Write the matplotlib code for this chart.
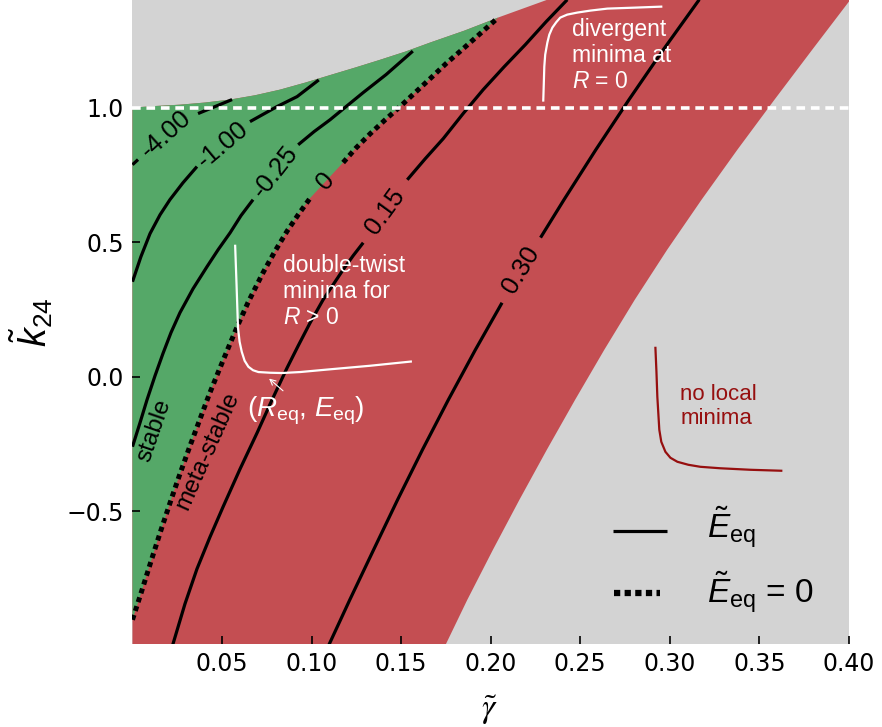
import numpy as np
import matplotlib.pyplot as plt

plt.rcParams['font.family'] = ['Liberation Sans', 'DejaVu Sans']
plt.rcParams['mathtext.fontset'] = 'custom'
plt.rcParams['mathtext.rm'] = 'Liberation Sans'
plt.rcParams['mathtext.it'] = 'Liberation Sans:italic'
plt.rcParams['mathtext.bf'] = 'Liberation Sans:bold'

nan = np.nan

# upper edge of the region that has minima (gray above it)
upper_g = [0.0, 0.0126, 0.0265, 0.0405, 0.0545, 0.0684, 0.0824, 0.0964, 0.1103, 0.1243,
           0.1383, 0.1522, 0.1662, 0.1852, 0.2042, 0.2316]
upper_k = [1.0, 1.006, 1.011, 1.019, 1.030, 1.046, 1.067, 1.093, 1.121, 1.149,
           1.178, 1.208, 1.242, 1.286, 1.335, 1.401]

# right edge of the red band (no local minima beyond it)
right_g = [0.4008, 0.3795, 0.3584, 0.3377, 0.3177, 0.2985, 0.2804, 0.2634, 0.2471, 0.2313,
           0.2160, 0.2012, 0.1869, 0.1745]
right_k = [1.4015, 1.2156, 1.0297, 0.8439, 0.6580, 0.4721, 0.2862, 0.1004, -0.0855, -0.2714,
           -0.4572, -0.6431, -0.8290, -1.0]

# E_eq = 0 curve (nan = gap for the inline label)
zero_g = [0.0, 0.0053, 0.0109, 0.0159, 0.0215, 0.0265, 0.0321, 0.0372, 0.0427, 0.0478,
          0.0534, 0.0589, 0.0645, 0.0729, 0.0796, 0.0863, 0.0925, 0.0992, nan,
          0.1176, 0.1249, 0.1327, 0.1411, 0.1494, 0.1578, 0.1662, 0.1751, 0.1846, 0.1941, 0.2042]
zero_k = [-0.903, -0.793, -0.674, -0.570, -0.458, -0.361, -0.257, -0.166, -0.068, 0.016,
          0.106, 0.193, 0.276, 0.387, 0.467, 0.541, 0.602, 0.664, nan,
          0.796, 0.851, 0.903, 0.955, 1.004, 1.056, 1.108, 1.164, 1.219, 1.275, 1.335]

# E_eq contours (nan = gap for the inline label)
levels = ['-4.00', '-1.00', '-0.25', '0.15', '0.30']
e_m400_g = [0.0, 0.0031, nan, 0.0366, 0.0461, 0.0556]
e_m400_k = [0.788, 0.807, nan, 0.978, 1.004, 1.030]
e_m100_g = [0.0, 0.0047, 0.0098, 0.0154, 0.0209, 0.0282, 0.0360, nan,
            0.0656, 0.0807, 0.0919, 0.1040]
e_m100_k = [0.353, 0.446, 0.532, 0.602, 0.658, 0.721, 0.781, nan,
            0.948, 1.004, 1.041, 1.103]
e_m025_g = [0.0, 0.0042, 0.0081, 0.0126, 0.0170, 0.0215, 0.0265, 0.0338, 0.0416, 0.0478,
            0.0545, 0.0606, 0.0673, nan, 0.0925, 0.1014, 0.1103, 0.1198, 0.1288, 0.1416, 0.1565]
e_m025_k = [-0.260, -0.171, -0.086, 0.004, 0.086, 0.164, 0.238, 0.327, 0.409, 0.472,
            0.535, 0.599, 0.658, nan, 0.862, 0.911, 0.955, 1.007, 1.056, 1.123, 1.210]
e_p015_g = [0.0223, 0.0293, 0.0360, 0.0433, 0.0506, 0.0601, 0.0696, 0.0779, 0.0863, 0.0925,
            0.0992, 0.1064, 0.1120, 0.1176, 0.1232, 0.1288, nan,
            0.1534, 0.1634, 0.1735, 0.1846, 0.1958, 0.2075, 0.2193, 0.2310, 0.2427]
e_p015_k = [-1.0, -0.844, -0.714, -0.595, -0.483, -0.342, -0.208, -0.086, 0.033, 0.115,
            0.201, 0.286, 0.342, 0.398, 0.450, 0.498, nan,
            0.732, 0.810, 0.885, 0.978, 1.067, 1.152, 1.234, 1.320, 1.401]
e_p030_g = [0.1094, 0.1213, 0.1346, 0.1480, 0.1619, 0.1763, 0.1914, 0.2063, nan,
            0.2278, 0.2409, 0.2587, 0.2772, 0.2964, 0.3164]
e_p030_k = [-1.0, -0.829, -0.643, -0.457, -0.271, -0.086, 0.100, 0.275, nan,
            0.517, 0.658, 0.844, 1.030, 1.216, 1.4015]

# sketch curves of the free energy vs R
dt_g = [0.0573, 0.0581, 0.0589, 0.0598, 0.0610, 0.0626, 0.0647, 0.0673, 0.0703, 0.0768,
        0.0834, 0.0936, 0.1075, 0.1327, 0.1560]
dt_k = [0.4907, 0.3420, 0.1822, 0.1301, 0.0929, 0.0595, 0.0372, 0.0242, 0.0175, 0.0149,
        0.0138, 0.0175, 0.0260, 0.0409, 0.0569]
dv_g = [0.2293, 0.2296, 0.2299, 0.2304, 0.2316, 0.2327, 0.2344, 0.2366, 0.2388, 0.2427,
        0.2483, 0.2556, 0.2651, 0.2807, 0.2958]
dv_k = [1.0223, 1.0855, 1.1524, 1.1970, 1.2416, 1.2714, 1.2974, 1.3178, 1.3346, 1.3457,
        1.3532, 1.3606, 1.3680, 1.3717, 1.3755]
nl_g = [0.2919, 0.2925, 0.2930, 0.2936, 0.2941, 0.2952, 0.2975, 0.3003, 0.3042, 0.3103,
        0.3170, 0.3282, 0.3450, 0.3628]
nl_k = [0.1115, 0.0186, -0.0743, -0.1413, -0.1970, -0.2416, -0.2788, -0.3011, -0.3160, -0.3271,
        -0.3346, -0.3401, -0.3457, -0.3494]

xticks = [0.05, 0.10, 0.15, 0.20, 0.25, 0.30, 0.35, 0.40]
xtick_labels = ['0.05', '0.10', '0.15', '0.20', '0.25', '0.30', '0.35', '0.40']
yticks = [-0.5, 0.0, 0.5, 1.0]
ytick_labels = ['\u22120.5', '0.0', '0.5', '1.0']

GREEN = '#55a868'
RED = '#c44e52'
GRAY = '#d3d3d3'
DARKRED = '#960f0f'

fig = plt.figure(figsize=(8.82, 7.27), dpi=100)
ax = fig.add_axes([0.1502, 0.1142, 0.8124, 0.8858])
ax.set_facecolor(GRAY)

# red band: everything between left/upper edge and the right edge
red_g = [0.0] + upper_g + right_g
red_k = [-1.0] + upper_k + right_k
ax.fill(red_g, red_k, color=RED, lw=0, zorder=1)

# green (stable) region on top
zg = [g for g in zero_g if not np.isnan(g)]
zk = [k for k in zero_k if not np.isnan(k)]
green_g = zg + upper_g[:-1][::-1]
green_k = zk + upper_k[:-1][::-1]
ax.fill(green_g, green_k, color=GREEN, lw=0, zorder=1.1)

level_g = [e_m400_g, e_m100_g, e_m025_g, e_p015_g, e_p030_g]
level_k = [e_m400_k, e_m100_k, e_m025_k, e_p015_k, e_p030_k]
for g, k in zip(level_g, level_k):
    ax.plot(g, k, color='k', lw=2.3, solid_capstyle='butt', solid_joinstyle='round', zorder=3)
ax.plot(zero_g, zero_k, color='k', lw=3.6, dashes=(1, 0.85), dash_capstyle='butt', zorder=3)

ax.axhline(1.0, color='white', lw=2.6, dashes=(2.4, 1.6), zorder=4)

# inline contour labels
label_pos = [(0.0187, 0.903, 42), (0.0506, 0.862, 40), (0.0796, 0.762, 52),
             (0.141, 0.613, 54), (0.2170, 0.398, 59)]
for text, (g, k, rot) in zip(levels, label_pos):
    ax.text(g, k, text, fontsize=18.5, rotation=rot, rotation_mode='anchor',
            ha='center', va='center', zorder=5)
ax.text(0.108, 0.729, '0', fontsize=18.5, rotation=48, rotation_mode='anchor',
        ha='center', va='center', zorder=5)

ax.text(0.0120, -0.201, 'stable', fontsize=17.5, rotation=71, rotation_mode='anchor',
        ha='center', va='center', zorder=5)
ax.text(0.0422, -0.275, 'meta-stable', fontsize=17.5, rotation=66, rotation_mode='anchor',
        ha='center', va='center', zorder=5)

# sketches
for g, k, c in [(dt_g, dt_k, 'white'), (dv_g, dv_k, 'white'), (nl_g, nl_k, DARKRED)]:
    ax.plot(g, k, color=c, lw=1.6, solid_joinstyle='round', solid_capstyle='butt', zorder=5)

ax.text(0.0841, 0.197, 'double-twist\nminima for\n$R$ > 0', color='white', fontsize=16.5,
        ha='left', va='baseline', linespacing=1.15, zorder=5)
ax.text(0.2455, 1.0744, 'divergent\nminima at\n$R$ = 0', color='white', fontsize=16.5,
        ha='left', va='baseline', linespacing=1.15, zorder=5)
ax.text(0.3059, -0.175, 'no local\nminima', color=DARKRED, fontsize=16,
        ha='left', va='baseline', linespacing=1.15, zorder=5)
ax.text(0.0640, -0.149, r'($R_{\rm eq}$, $E_{\rm eq}$)', color='white', fontsize=20,
        ha='left', va='baseline', zorder=5)
ax.annotate('', xy=(0.0751, 0.0), xytext=(0.0852, -0.059),
            arrowprops=dict(arrowstyle='->', color='white', lw=0.8), zorder=5)

# legend
ax.plot([0.670, 0.746], [0.1755, 0.1755], transform=ax.transAxes, color='k', lw=2.3,
        solid_capstyle='butt', zorder=5)
ax.plot([0.672, 0.736], [0.079, 0.079], transform=ax.transAxes, color='k', lw=4.5,
        dashes=(1, 0.7), dash_capstyle='butt', zorder=5)
ax.text(0.8017, 0.1646, r'$\tilde{E}_{\rm eq}$', transform=ax.transAxes, fontsize=24,
        va='baseline', zorder=5)
ax.text(0.8017, 0.0637, r'$\tilde{E}_{\rm eq}$ = 0', transform=ax.transAxes, fontsize=24,
        va='baseline', zorder=5)

ax.set_xlim(0, 0.40)
ax.set_ylim(-0.993, 1.40)
ax.set_xticks(xticks)
ax.set_xticklabels(xtick_labels)
ax.set_yticks(yticks)
ax.set_yticklabels(ytick_labels)
ax.tick_params(direction='in', length=6, width=1.2, labelsize=17, pad=6,
               labelfontfamily='DejaVu Sans')
for s in ax.spines.values():
    s.set_visible(False)

ax.set_xlabel(r'$\tilde{\gamma}$', fontsize=24, math_fontfamily='stix')
ax.xaxis.set_label_coords(0.4986, -0.076)
ax.set_ylabel(r'$\tilde{k}_{24}$', fontsize=27)
ax.yaxis.set_label_coords(-0.108, 0.5)

fig.savefig('out.png', dpi=100)
